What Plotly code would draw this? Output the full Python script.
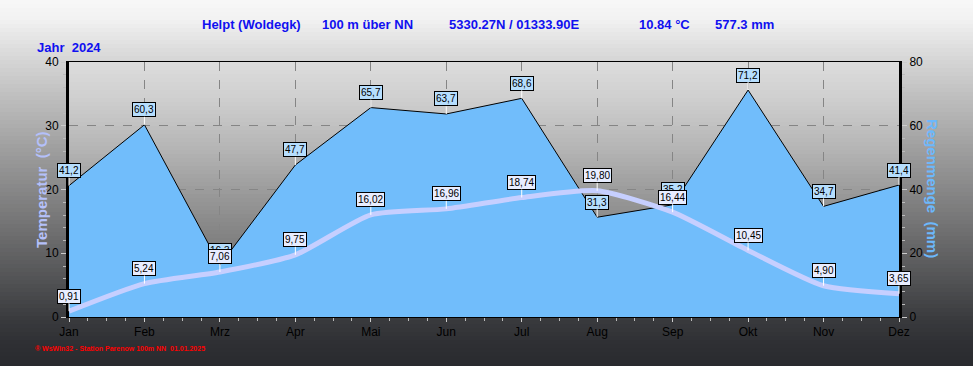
import plotly.graph_objects as go

# ---- data ----
months = ["Jan", "Feb", "Mrz", "Apr", "Mai", "Jun", "Jul", "Aug", "Sep", "Okt", "Nov", "Dez"]
rain_mm = [41.2, 60.3, 16.3, 47.7, 65.7, 63.7, 68.6, 31.3, 35.2, 71.2, 34.7, 41.4]
temp_c = [0.91, 5.24, 7.06, 9.75, 16.02, 16.96, 18.74, 19.80, 16.44, 10.45, 4.90, 3.65]
temp_ticks = [0, 10, 20, 30, 40]
rain_ticks = [0, 20, 40, 60, 80]

W, H = 973, 366
ML, MR, MT, MB = 69, 74, 62, 49
PW, PH = W - ML - MR, H - MT - MB

def px_to_paper_y(py):
    return (H - MB - py) / PH

def px_to_paper_x(px):
    return (px - ML) / PW

def interp(stops, py):
    for (y0, c0), (y1, c1) in zip(stops, stops[1:]):
        if y0 <= py <= y1:
            t = (py - y0) / (y1 - y0)
            return tuple(int(round(a + (b - a) * t)) for a, b in zip(c0, c1))
    return stops[-1][1]

shapes = []
# page gradient
page_stops = [(0, (248, 248, 248)), (20, (241, 241, 241)), (62, (212, 212, 212)),
              (150, (158, 158, 158)), (230, (112, 112, 113)), (290, (76, 77, 79)),
              (320, (57, 58, 61)), (345, (46, 47, 51)), (366, (41, 42, 46))]
step = 4
for py in range(0, H, step):
    c = interp(page_stops, py + step / 2)
    shapes.append(dict(type="rect", xref="paper", yref="paper", layer="below",
                       x0=px_to_paper_x(0), x1=px_to_paper_x(W),
                       y0=px_to_paper_y(py + step + 0.5), y1=px_to_paper_y(py),
                       fillcolor="rgb(%d,%d,%d)" % c, line=dict(width=0)))
# plot-area gradient
plot_stops = [(62, (221, 221, 221)), (100, (206, 206, 206)), (150, (180, 180, 180)),
              (200, (150, 150, 150)), (260, (118, 118, 118)), (317, (92, 92, 92))]
for py in range(MT, H - MB, step):
    c = interp(plot_stops, py + step / 2)
    shapes.append(dict(type="rect", xref="paper", yref="paper", layer="below",
                       x0=0, x1=1,
                       y0=max(0, px_to_paper_y(py + step + 0.5)), y1=px_to_paper_y(py),
                       fillcolor="rgb(%d,%d,%d)" % c, line=dict(width=0)))

xs = list(range(len(months)))

fig = go.Figure()
fig.add_trace(go.Scatter(
    x=xs, y=rain_mm, yaxis="y", mode="lines", fill="tozeroy",
    fillcolor="#71bdfb", line=dict(color="black", width=1), hoverinfo="skip"))
fig.add_trace(go.Scatter(
    x=xs, y=temp_c, yaxis="y2", mode="lines",
    line=dict(color="#c6cfff", width=5, shape="spline", smoothing=0.6), hoverinfo="skip"))

annotations = []
for x, v in zip(xs, rain_mm):
    annotations.append(dict(
        x=x, y=v, xref="x", yref="y", text=("%.1f" % v).replace(".", ","),
        showarrow=True, arrowhead=0, arrowcolor="white", arrowwidth=1,
        ax=0, ay=-15, standoff=0,
        bgcolor="#b6defe", bordercolor="black", borderwidth=1, borderpad=1,
        font=dict(family="Liberation Sans, Arial", size=10, color="black")))
for x, v in zip(xs, temp_c):
    annotations.append(dict(
        x=x, y=v, xref="x", yref="y2", text=("%.2f" % v).replace(".", ","),
        showarrow=True, arrowhead=0, arrowcolor="white", arrowwidth=1,
        ax=0, ay=-15, standoff=0,
        bgcolor="#e8edff", bordercolor="black", borderwidth=1, borderpad=1,
        font=dict(family="Liberation Sans, Arial", size=10, color="black")))

blue = "#1010f0"
bold = "Liberation Sans, Arial"
title_parts = [(200, "Helpt (Woldegk)"), (320, "100 m über NN"), (447, "5330.27N / 01333.90E"),
               (637, "10.84 °C"), (713, "577.3 mm")]
for px, t in title_parts:
    annotations.append(dict(x=px_to_paper_x(px), y=px_to_paper_y(24), xref="paper", yref="paper",
                            text="<b>%s</b>" % t, showarrow=False, xanchor="left", yanchor="middle",
                            font=dict(family=bold, size=13, color=blue)))
annotations.append(dict(x=px_to_paper_x(35), y=px_to_paper_y(48), xref="paper", yref="paper",
                        text="<b>Jahr  2024</b>", showarrow=False, xanchor="left", yanchor="middle",
                        font=dict(family=bold, size=13, color=blue)))
annotations.append(dict(x=px_to_paper_x(41), y=px_to_paper_y(190), xref="paper", yref="paper",
                        text="<b>Temperatur  (°C)</b>", showarrow=False, textangle=-90,
                        xanchor="center", yanchor="middle",
                        font=dict(family=bold, size=15, color="#b4c0fa")))
annotations.append(dict(x=px_to_paper_x(933), y=px_to_paper_y(188), xref="paper", yref="paper",
                        text="<b>Regenmenge  (mm)</b>", showarrow=False, textangle=90,
                        xanchor="center", yanchor="middle",
                        font=dict(family=bold, size=15, color="#6cb8fc")))
annotations.append(dict(x=px_to_paper_x(33), y=px_to_paper_y(348), xref="paper", yref="paper",
                        text="<b>® WsWin32 - Station Parenow 100m NN  01.01.2025</b>", showarrow=False,
                        xanchor="left", yanchor="middle",
                        font=dict(family=bold, size=7, color="#ff0000")))

tickfont = dict(family="Liberation Sans, Arial", size=12, color="black")
fig.update_layout(
    width=W, height=H,
    margin=dict(l=ML, r=MR, t=MT, b=MB, pad=0),
    paper_bgcolor="#2a2b2f", plot_bgcolor="rgba(0,0,0,0)",
    showlegend=False, hovermode=False,
    shapes=shapes, annotations=annotations,
    xaxis=dict(range=[0, 11], tickvals=xs, ticktext=months, ticks="outside", ticklen=4,
               tickcolor="#cccccc", tickfont=tickfont,
               minor=dict(dtick=0.25, tick0=0, ticks="outside", ticklen=3, tickcolor="#bbbbbb",
                          showgrid=False),
               showgrid=True, gridcolor="#858585", griddash="dash", gridwidth=1,
               showline=True, linecolor="black", linewidth=1, mirror=True, zeroline=False),
    yaxis=dict(range=[0, 80], tickvals=rain_ticks, side="right", ticks="outside", ticklen=5,
               tickcolor="#cccccc", tickfont=tickfont,
               minor=dict(dtick=4, ticks="outside", ticklen=3, tickcolor="#bbbbbb", showgrid=False),
               showgrid=True, gridcolor="#858585", griddash="dash", gridwidth=1,
               showline=True, linecolor="black", linewidth=3, zeroline=False),
    yaxis2=dict(range=[0, 40], tickvals=temp_ticks, side="left", overlaying="y", ticks="outside",
                ticklen=5, tickcolor="#cccccc", tickfont=tickfont,
                minor=dict(dtick=2, ticks="outside", ticklen=3, tickcolor="#bbbbbb", showgrid=False),
                showgrid=False, showline=True, linecolor="black", linewidth=3, zeroline=False),
)

fig.write_html("out.html", config={"displayModeBar": False},
               post_script="document.body.style.margin='0';document.body.style.padding='0';")
